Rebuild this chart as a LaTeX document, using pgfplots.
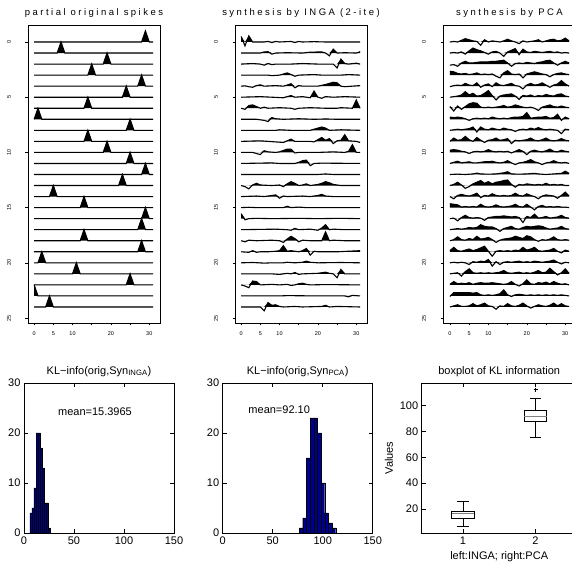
\documentclass[border=0pt]{standalone}
\usepackage{fontspec}
\setmainfont{Liberation Sans}
\usepackage{pgfplots}
\pgfplotsset{compat=1.18}
\usepgfplotslibrary{statistics}
\definecolor{histblue}{RGB}{0,0,143}

% one trace of a raster: row #1, points (x, offset) in #2
\newcommand\wave[2]{%
  \addplot[draw=none, fill=black, y filter/.expression={#1-max(y,0)}] coordinates {(0,0) #2 (31,0)} -- cycle;
  \addplot[black, line width=1.1pt, y filter/.expression={#1-y}] coordinates {#2};
}

\pgfplotsset{
  spk/.style={
    scale only axis, width=132pt, height=298pt, anchor=south west,
    xmin=-1.6, xmax=32.8, ymin=-1.54, ymax=25.45, y dir=reverse,
    xtick={0,5,...,30}, xticklabels={0,5,10,,20,,30},
    ytick={0,5,...,25},
    tick align=outside, tick pos=left, major tick length=2.5pt,
    tick style={black, line width=0.5pt},
    axis line style={line width=0.8pt},
    /pgf/number format/assume math mode=true,
    tick label style={font=\fontsize{5.5}{6}\selectfont},
    xticklabel style={yshift=-3pt},
    yticklabel style={rotate=90, anchor=south, yshift=11pt},
    title style={font=\fontsize{9.5}{10}\selectfont\addfontfeatures{LetterSpace=26}, yshift=-2pt},
    no markers,
  },
  kl/.style={
    scale only axis, width=150pt, height=150pt, anchor=south west,
    tick align=inside, major tick length=4pt,
    tick style={black, line width=0.5pt},
    axis line style={line width=0.7pt},
    /pgf/number format/assume math mode=true,
    tick label style={font=\fontsize{11}{12}\selectfont},
    label style={font=\fontsize{11}{12}\selectfont},
    title style={font=\fontsize{11}{12}\selectfont, yshift=-3pt},
  },
}

\begin{document}
\begin{tikzpicture}

% ---------- partial original spikes ----------
\begin{axis}[spk, at={(28pt,246pt)}, title={partial original spikes}]
\wave{0}{(0,0)(28,0)(29,1)(30,0)(31,0)}
\wave{1}{(0,0)(6,0)(7,1)(8,0)(31,0)}
\wave{2}{(0,0)(18,0)(19,1)(20,0)(31,0)}
\wave{3}{(0,0)(14,0)(15,1)(16,0)(31,0)}
\wave{4}{(0,0)(27,0)(28,1)(29,0)(31,0)}
\wave{5}{(0,0)(23,0)(24,1)(25,0)(31,0)}
\wave{6}{(0,0)(13,0)(14,1)(15,0)(31,0)}
\wave{7}{(0,0)(1,1)(2,0)(31,0)}
\wave{8}{(0,0)(24,0)(25,1)(26,0)(31,0)}
\wave{9}{(0,0)(13,0)(14,1)(15,0)(31,0)}
\wave{10}{(0,0)(18,0)(19,1)(20,0)(31,0)}
\wave{11}{(0,0)(24,0)(25,1)(26,0)(31,0)}
\wave{12}{(0,0)(28,0)(29,1)(30,0)(31,0)}
\wave{13}{(0,0)(22,0)(23,1)(24,0)(31,0)}
\wave{14}{(0,0)(4,0)(5,1)(6,0)(31,0)}
\wave{15}{(0,0)(12,0)(13,1)(14,0)(31,0)}
\wave{16}{(0,0)(28,0)(29,1)(30,0)(31,0)}
\wave{17}{(0,0)(27,0)(28,1)(29,0)(31,0)}
\wave{18}{(0,0)(12,0)(13,1)(14,0)(31,0)}
\wave{19}{(0,0)(27,0)(28,1)(29,0)(31,0)}
\wave{20}{(0,0)(1,0)(2,1)(3,0)(31,0)}
\wave{21}{(0,0)(10,0)(11,1)(12,0)(31,0)}
\wave{22}{(0,0)(24,0)(25,1)(26,0)(31,0)}
\wave{23}{(0,1)(1,0)(31,0)}
\wave{24}{(0,0)(3,0)(4,1)(5,0)(31,0)}
\end{axis}

% ---------- synthesis by INGA ----------
\begin{axis}[spk, at={(235pt,246pt)}, title={synthesis by INGA (2-ite)}]
\wave{0}{(0,0.5)(1,-0.35)(2,0.55)(3,0)(6,0)(7,0.05)(8,-0.05)(9,0.05)(10,0)(13,0.05)(14,-0.05)(15,0.05)(16,0)(19,0.03)(22,0)(31,0)}
\wave{1}{(0,0)(5,0)(6,0.1)(7,0.12)(8,-0.1)(9,0)(12,0.03)(16,0)(18,0.08)(21,0.1)(22,0)(23,-0.25)(24,0.35)(25,0)(27,0.03)(30,0)(31,0.12)}
\wave{2}{(0,0)(3,0.05)(5,0)(6,-0.1)(7,0.05)(8,-0.05)(9,0)(13,0)(16,0.05)(20,0)(24,0)(25,-0.35)(26,0.45)(27,0.05)(28,0)(30,0.08)(31,0)}
\wave{3}{(0,0)(7,0)(8,-0.05)(10,0)(12,0.2)(13,0.05)(14,-0.1)(15,0)(19,0.05)(21,0)(26,0)(28,0.05)(31,0)}
\wave{4}{(0,0)(1,0.03)(2,-0.05)(3,-0.1)(4,0.05)(5,0.12)(6,0)(9,0.05)(11,0)(12,0.1)(13,0.22)(14,-0.15)(15,0.05)(16,0)(20,0)(22,0.15)(24,0.35)(25,0.3)(26,0)(27,-0.05)(29,0)(31,0.05)}
\wave{5}{(0,0)(5,0.05)(8,0)(11,-0.05)(12,0.05)(13,0.15)(14,0)(16,0.05)(17,0)(18,-0.05)(19,0.55)(20,0)(21,-0.1)(22,0.05)(24,0)(27,0.05)(31,0)}
\wave{6}{(0,0)(1,-0.1)(2,0.25)(3,0.3)(4,0.15)(5,0)(6,0.1)(7,0)(10,0.05)(13,0)(14,-0.1)(15,0)(18,0.05)(22,0)(25,0)(26,0.05)(29,0)(30,0.75)(31,0)}
\wave{7}{(0,0)(4,0)(6,-0.1)(7,-0.2)(8,0.15)(9,0.05)(11,0)(15,0.05)(19,0)(22,0.03)(25,0)(31,0)}
\wave{8}{(0,0)(9,0)(10,0.05)(13,0)(18,0)(19,0.1)(21,0.3)(22,0.2)(23,0)(26,0.05)(31,0)}
\wave{9}{(0,0)(5,0.05)(7,0)(11,-0.1)(12,0.05)(13,0.2)(14,0)(18,0)(19,-0.05)(21,0.35)(22,0.1)(23,0.25)(24,-0.2)(25,0.05)(26,0.1)(27,0.6)(28,0.05)(30,0)(31,-0.1)}
\wave{10}{(0,0)(3,0)(4,-0.1)(5,-0.2)(6,0.15)(7,0.05)(9,0)(10,0.05)(12,0.3)(13,0.3)(14,-0.05)(15,0)(20,0)(24,0.05)(27,0)(28,0.1)(29,0.7)(30,0)(31,0)}
\wave{11}{(0,0)(8,0.05)(10,0)(14,0)(15,0.1)(16,0.25)(17,0.3)(18,-0.2)(19,0)(21,0.03)(31,0)}
\wave{12}{(0,0)(20,0)(22,0.05)(24,0)(31,0)}
\wave{13}{(0,0)(1,-0.1)(2,-0.3)(3,0.05)(4,0.2)(5,0.05)(8,0)(10,0.05)(11,-0.1)(12,0.15)(13,0.35)(14,0.2)(15,0)(16,0.05)(17,0.15)(18,0)(20,0.1)(21,0.2)(22,0.35)(23,0.25)(24,0.1)(26,0)(31,0)}
\wave{14}{(0,0)(4,0.05)(6,0)(8,0.1)(9,0.15)(10,-0.15)(11,0.05)(12,0)(16,0.05)(18,0)(20,0.1)(21,0.2)(22,0.05)(24,0)(31,0)}
\wave{15}{(0,0)(2,0.03)(4,0)(11,0)(12,0.12)(13,0)(15,0.05)(17,0)(31,0)}
\wave{16}{(0,0.45)(1,-0.1)(2,0)(4,0.03)(8,0)(15,0.03)(20,0)(26,0.03)(31,0)}
\wave{17}{(0,0)(9,0.05)(12,0)(13,-0.05)(14,0.12)(15,0)(18,0.05)(19,0)(20,-0.05)(21,0.15)(22,0.45)(23,0)(24,0.05)(27,0)(31,0)}
\wave{18}{(0,0)(1,-0.1)(2,0.05)(4,0)(8,0.05)(10,0)(11,-0.15)(12,0.15)(13,0.4)(14,0.2)(15,-0.1)(16,0.05)(18,0)(21,0)(22,0.8)(23,0)(24,0.05)(27,0)(31,0)}
\wave{19}{(0,0)(2,-0.05)(3,0.1)(4,-0.05)(5,0)(7,0)(9,0.05)(10,0.1)(11,0.55)(12,0.05)(13,0.1)(14,0.05)(15,0)(16,0.1)(17,0.3)(18,-0.3)(19,0.05)(20,0)(25,0)(28,0.05)(31,0.1)}
\wave{20}{(0,0)(3,0.03)(6,-0.03)(8,0)(11,0)(12,0.05)(14,0)(16,0.05)(17,0.15)(18,0.05)(20,0)(26,0.03)(31,0)}
\wave{21}{(0,0)(8,0)(10,-0.05)(12,0.05)(13,0)(14,0.12)(15,-0.05)(16,0)(20,0.05)(21,0.1)(22,0.15)(23,0.05)(24,0)(25,-0.35)(26,0.4)(27,0)(31,0)}
\wave{22}{(0,0)(1,-0.1)(2,-0.25)(3,0.35)(4,0.3)(5,0)(8,0.05)(10,0)(12,0.05)(13,-0.05)(14,0)(15,0.1)(16,0.15)(17,0.05)(18,0)(22,0.03)(31,0)}
\wave{23}{(0,0)(10,0)(12,0.03)(20,0)(27,0)(28,-0.08)(29,0.05)(31,0)}
\wave{24}{(0,0)(5,0)(6,-0.35)(7,0.4)(8,0.15)(9,0.2)(10,0.05)(11,0)(14,0.05)(16,0)(21,0.05)(22,0.15)(23,0)(25,0.05)(31,0)}
\end{axis}

% ---------- synthesis by PCA ----------
\begin{axis}[spk, at={(443pt,246pt)}, width=133pt, xmin=-1.8, title={synthesis by PCA}]
\wave{0}{(0,0)(1,0.05)(2,0)(3,0.15)(4,0.3)(5,0.2)(6,0.1)(7,0.05)(8,-0.3)(9,0.2)(10,0)(11,0.1)(12,0.05)(13,0)(14,0.1)(15,0.25)(16,0.1)(17,0)(18,-0.15)(19,0.1)(20,0)(21,0.05)(22,0.1)(23,0.2)(24,0)(25,0.1)(26,0.2)(27,0.25)(28,0.1)(29,0.15)(30,0.35)(31,0.1)}
\wave{1}{(0,0)(1,0.05)(2,0)(3,0.1)(4,-0.1)(5,0.2)(6,0.45)(7,0.3)(8,0.2)(9,0.05)(10,-0.1)(11,0.1)(12,0.15)(13,0)(14,-0.3)(15,0.1)(16,0.25)(17,0.4)(18,-0.15)(19,0.35)(20,0.1)(21,0.05)(22,0.15)(23,0.1)(24,0.05)(25,0.1)(26,0.15)(27,0.05)(28,0.1)(29,0)(30,0.05)(31,0)}
\wave{2}{(0,-0.1)(1,-0.05)(2,-0.2)(3,0.1)(4,0.25)(5,0.1)(6,0.1)(7,0.15)(8,0.2)(9,0.2)(10,0.2)(11,0.25)(12,0.25)(13,0.3)(14,0.35)(15,0.1)(16,-0.2)(17,0.05)(18,0.1)(19,0.05)(20,0.15)(21,0.1)(22,0.05)(23,0.15)(24,0.2)(25,0.3)(26,0.35)(27,0.1)(28,-0.1)(29,0.1)(30,0.25)(31,0.1)}
\wave{3}{(0,0.35)(1,0.3)(2,0.15)(3,0.1)(4,0.15)(5,0.05)(6,0.1)(7,0.2)(8,0.05)(9,0.1)(10,0.05)(11,0.1)(12,-0.1)(13,-0.25)(14,0.2)(15,0.4)(16,0.1)(17,0.05)(18,0.1)(19,-0.25)(20,0.1)(21,0.2)(22,0.3)(23,0.2)(24,0.1)(25,0.05)(26,-0.15)(27,0.05)(28,0.15)(29,0.2)(30,0.1)(31,0.05)}
\wave{4}{(0,-0.05)(1,0.05)(2,0.1)(3,0.05)(4,0.25)(5,0.1)(6,0.05)(7,0.3)(8,-0.1)(9,0.1)(10,0.2)(11,-0.05)(12,0.3)(13,0.1)(14,0.05)(15,0.15)(16,0.25)(17,0.05)(18,0)(19,-0.25)(20,0.1)(21,0.25)(22,0.1)(23,0.15)(24,0.3)(25,0.1)(26,-0.1)(27,0.1)(28,0.2)(29,0.5)(30,0.2)(31,0)}
\wave{5}{(0,0)(1,0.05)(2,0.1)(3,0.2)(4,0.5)(5,0.2)(6,0.35)(7,0.1)(8,0.15)(9,0.35)(10,0.6)(11,0.15)(12,-0.25)(13,0.1)(14,0.2)(15,0.25)(16,0.3)(17,0.1)(18,-0.2)(19,0.15)(20,0.1)(21,0.2)(22,0.05)(23,0.15)(24,0.1)(25,0.25)(26,0.15)(27,0.1)(28,0.25)(29,0.3)(30,0.1)(31,0.05)}
\wave{6}{(0,0.15)(1,-0.25)(2,0.2)(3,-0.1)(4,0.15)(5,0.4)(6,0.5)(7,0.45)(8,0.1)(9,0.05)(10,0.1)(11,0.05)(12,0.1)(13,0.15)(14,0.25)(15,0.1)(16,0.15)(17,0.3)(18,0.2)(19,0.1)(20,0.05)(21,0.1)(22,0)(23,-0.2)(24,0.1)(25,0.2)(26,0.3)(27,0.15)(28,0.1)(29,0.2)(30,0.1)(31,0.05)}
\wave{7}{(0,0.2)(1,0.15)(2,0.2)(3,0.15)(4,0.05)(5,-0.1)(6,0.05)(7,0.1)(8,0.05)(9,0.1)(10,0.05)(11,0.2)(12,0.1)(13,0.05)(14,0.1)(15,0.05)(16,0.15)(17,0.2)(18,0.2)(19,0.25)(20,0.6)(21,0.1)(22,0.15)(23,0.2)(24,0.2)(25,0.25)(26,0.1)(27,0.15)(28,0.45)(29,-0.1)(30,0.2)(31,0.05)}
\wave{8}{(0,0)(1,0.05)(2,0.1)(3,0.05)(4,0.1)(5,0.15)(6,0.3)(7,-0.15)(8,0.3)(9,0.1)(10,0.05)(11,0.2)(12,0.1)(13,0.05)(14,0.2)(15,0.1)(16,0.05)(17,-0.1)(18,0.05)(19,0.1)(20,0.05)(21,0.2)(22,0.1)(23,0.25)(24,0.1)(25,0.05)(26,0.1)(27,0.05)(28,0)(29,-0.3)(30,0.1)(31,0.05)}
\wave{9}{(0,0)(1,0.3)(2,0.1)(3,0.15)(4,0.45)(5,0.15)(6,0)(7,0.35)(8,0.1)(9,-0.1)(10,0.1)(11,0.15)(12,0.3)(13,0.1)(14,0.15)(15,0.25)(16,-0.2)(17,0.1)(18,0.05)(19,0.1)(20,0.15)(21,0.3)(22,0.1)(23,0.05)(24,0.15)(25,0.3)(26,0.1)(27,0.05)(28,0.1)(29,0.25)(30,0.1)(31,0.05)}
\wave{10}{(0,0.2)(1,0.25)(2,0.2)(3,0.1)(4,0.05)(5,-0.1)(6,0.05)(7,0.1)(8,0.05)(9,0.1)(10,0.25)(11,0.1)(12,0.05)(13,0.1)(14,0.05)(15,0.1)(16,-0.05)(17,0.1)(18,0.25)(19,0.1)(20,-0.2)(21,0.1)(22,0.2)(23,0.1)(24,0.05)(25,0.15)(26,0.3)(27,0.1)(28,0.05)(29,0.2)(30,0.1)(31,0.05)}
\wave{11}{(0,0)(1,0.1)(2,0.2)(3,0.05)(4,0.1)(5,0.15)(6,0.05)(7,0.05)(8,0.1)(9,0.15)(10,0.15)(11,0.2)(12,0.1)(13,0.05)(14,0.1)(15,0.25)(16,0.05)(17,-0.1)(18,0.05)(19,0.1)(20,0.2)(21,0.35)(22,0.15)(23,0.05)(24,-0.1)(25,0.05)(26,0.1)(27,0.25)(28,0.1)(29,0.05)(30,0.1)(31,0)}
\wave{12}{(0,0)(2,0.03)(4,0)(6,0.05)(7,0.12)(8,0.05)(10,0.03)(12,0.05)(14,0.15)(15,0.25)(16,0.05)(18,0.03)(20,0.05)(22,0.1)(23,0.05)(25,0)(27,0.05)(29,0.1)(30,0.3)(31,0.1)}
\wave{13}{(0,0)(1,0.1)(2,0.3)(3,0.05)(4,-0.25)(5,-0.1)(6,0.15)(7,0.3)(8,0.45)(9,0.2)(10,0.35)(11,0.15)(12,0.3)(13,0.35)(14,0.45)(15,0.5)(16,0.1)(17,-0.15)(18,0.1)(19,0.05)(20,0.15)(21,0.1)(22,0.05)(23,0.1)(24,0.05)(25,0.2)(26,0.05)(27,0.1)(28,0.05)(29,0.1)(30,0)(31,0)}
\wave{14}{(0,0)(1,-0.2)(2,0.1)(3,0.2)(4,0.1)(5,0.05)(6,0.15)(7,0.3)(8,-0.1)(9,0.1)(10,0.05)(11,0.25)(12,0.1)(13,0.05)(14,0.1)(15,0.05)(16,0.1)(17,0.3)(18,0.1)(19,0.05)(20,0.25)(21,0.1)(22,0)(23,-0.2)(24,0.05)(25,0.15)(26,0.1)(27,0.05)(28,-0.15)(29,0.1)(30,0.4)(31,0.05)}
\wave{15}{(0,0.35)(1,0.3)(2,0.25)(3,0.05)(4,0.1)(5,0.05)(6,0.1)(7,0.05)(8,0.3)(9,0.1)(10,0.05)(11,0.1)(12,0.25)(13,0.1)(14,0.05)(15,0.1)(16,0.15)(17,0.3)(18,0.1)(19,0.05)(20,0.3)(21,0.05)(22,-0.2)(23,0.1)(24,0.2)(25,0.05)(26,0.1)(27,0.05)(28,0.1)(29,0.05)(30,0.05)(31,0)}
\wave{16}{(0,0)(1,0.05)(2,-0.2)(3,0.1)(4,0.3)(5,0.1)(6,0.05)(7,0.1)(8,0.05)(9,-0.15)(10,0.1)(11,0.15)(12,0.2)(13,0.2)(14,0.25)(15,0.2)(16,0.15)(17,0.2)(18,0.1)(19,-0.35)(20,0.2)(21,0.1)(22,0.4)(23,0.05)(24,0.1)(25,0.2)(26,0.05)(27,0.1)(28,0.15)(29,0.3)(30,0.1)(31,0.05)}
\wave{17}{(0,0)(1,0.05)(2,0.1)(3,0.05)(4,0.1)(5,0.2)(6,0.15)(7,0.2)(8,0.45)(9,0.3)(10,0.25)(11,0.25)(12,0.1)(13,-0.15)(14,0.1)(15,0.2)(16,0.3)(17,0.1)(18,0.05)(19,0.2)(20,0.3)(21,0.25)(22,0.3)(23,0.35)(24,0.3)(25,0.15)(26,0.05)(27,0.1)(28,0.15)(29,0.3)(30,0.1)(31,0.05)}
\wave{18}{(0,0)(1,0.1)(2,0.35)(3,0.1)(4,0.05)(5,0.2)(6,0.1)(7,0.4)(8,0.15)(9,0.2)(10,0.3)(11,0.1)(12,-0.15)(13,0.05)(14,0.15)(15,0.2)(16,0.25)(17,0.4)(18,0.3)(19,0.2)(20,0.45)(21,0.35)(22,0.1)(23,-0.05)(24,0.1)(25,0.05)(26,0.15)(27,0.35)(28,0.1)(29,0.05)(30,0.1)(31,0.05)}
\wave{19}{(0,0.1)(1,0.4)(2,0.1)(3,0.05)(4,0.15)(5,0.25)(6,0.1)(7,0.2)(8,0.35)(9,0.5)(10,0.05)(11,-0.4)(12,0.05)(13,0.1)(14,0.05)(15,0.1)(16,0.05)(17,0.15)(18,0.1)(19,0.4)(20,0.15)(21,0.25)(22,0.4)(23,0.1)(24,0.05)(25,0.1)(26,0.15)(27,0.3)(28,0.05)(29,-0.1)(30,0.15)(31,0.05)}
\wave{20}{(0,0)(1,0.05)(2,0)(3,0.05)(4,0)(5,-0.15)(6,0.1)(7,0.05)(8,0.15)(9,0.1)(10,0.3)(11,-0.3)(12,0.1)(13,-0.15)(14,0.05)(15,0.1)(16,0.05)(17,0.1)(18,0.15)(19,0.05)(20,0.1)(21,0.05)(22,0.15)(23,0.1)(24,0.05)(25,0.1)(26,0.15)(27,0.25)(28,0.05)(29,-0.1)(30,0.05)(31,0)}
\wave{21}{(0,0)(1,0.05)(2,0.1)(3,-0.2)(4,0.2)(5,0.45)(6,0.1)(7,0.05)(8,0.1)(9,0.05)(10,0.1)(11,0.05)(12,0.1)(13,0.15)(14,0.3)(15,0.1)(16,0.05)(17,0.1)(18,0.15)(19,0.05)(20,0.1)(21,0.05)(22,0.15)(23,0.3)(24,0.1)(25,0.15)(26,0.5)(27,0.2)(28,-0.1)(29,0.1)(30,0.45)(31,0.05)}
\wave{22}{(0,0.05)(1,0.3)(2,0.1)(3,0.15)(4,0.1)(5,0.2)(6,0.05)(7,0.15)(8,0.2)(9,0.15)(10,0.15)(11,0.2)(12,0.15)(13,0.1)(14,0.05)(15,0.1)(16,0.3)(17,0.05)(18,-0.1)(19,0.1)(20,0.45)(21,0.1)(22,0.05)(23,0.2)(24,0.15)(25,0.25)(26,0.1)(27,0.3)(28,0.15)(29,0.05)(30,0.1)(31,0)}
\wave{23}{(0,-0.05)(1,0.3)(2,0.3)(3,0.3)(4,0.3)(5,0.3)(6,0.25)(7,0.3)(8,0.1)(9,0.05)(10,0.1)(11,0.05)(12,0.1)(13,0.2)(14,0.55)(15,0.1)(16,-0.05)(17,0.1)(18,0.15)(19,0.1)(20,0.05)(21,0.1)(22,0.05)(23,0.1)(24,0.05)(25,0.1)(26,0.05)(27,0.1)(28,0.05)(29,0.1)(30,0.05)(31,0)}
\wave{24}{(0,0)(1,0.1)(2,0.2)(3,0.05)(4,0.05)(5,0.1)(6,0.3)(7,0.1)(8,0.2)(9,0.35)(10,0.1)(11,0.05)(12,-0.2)(13,0.1)(14,0.05)(15,0.3)(16,0.1)(17,0.05)(18,0.15)(19,0.35)(20,0.1)(21,-0.1)(22,0.05)(23,0.2)(24,0.1)(25,0.05)(26,0.15)(27,0.35)(28,0.1)(29,0.3)(30,0.1)(31,0.05)}
\end{axis}

% ---------- histogram INGA ----------
\begin{axis}[kl, at={(24pt,36pt)}, xmin=0, xmax=150, ymin=0, ymax=30,
  xtick={0,50,100,150}, ytick={0,10,20,30},
  title={KL−info(orig,Syn\textsubscript{INGA})}]
\addplot[ybar interval, fill=histblue, draw=black, line width=0.4pt]
  coordinates {(6,4)(8,5)(10,9)(12,20)(14,20)(16,17)(18,13)(20,6)(22,6)(24,1)(26,1)};
\node[font=\fontsize{11}{12}\selectfont] at (axis cs:71,24.3) {mean=15.3965};
\end{axis}

% ---------- histogram PCA ----------
\begin{axis}[kl, at={(222.7pt,36pt)}, xmin=0, xmax=150, ymin=0, ymax=30,
  xtick={0,50,100,150}, ytick={0,10,20,30},
  title={KL−info(orig,Syn\textsubscript{PCA})}]
\addplot[ybar interval, fill=histblue, draw=black, line width=0.4pt]
  coordinates {(76.3,1)(80,3)(83.7,15)(87.3,23)(91,23)(94.7,20)(98.3,10)(102,4)(105.7,2)(109.3,1)(113,1)};
\node[font=\fontsize{11}{12}\selectfont] at (axis cs:56.5,24.7) {mean=92.10};
\end{axis}

% ---------- boxplot ----------
\begin{axis}[kl, at={(421.7pt,36pt)}, width=155pt,
  xmin=0.433, xmax=2.567, ymin=1.4, ymax=117.6,
  xtick={1,2}, ytick={20,40,...,100},
  ylabel={Values}, xlabel={left:INGA; right:PCA},
  title={boxplot of KL information},
  boxplot/draw direction=y,
  boxplot/every median/.style={gray, line width=1pt}]
\addplot[black, line width=0.6pt, mark=+, boxplot prepared={median=16.4, upper quartile=18.2,
  lower quartile=13, upper whisker=26, lower whisker=6.6, draw position=1,
  box extend=0.31, whisker extend=0.16}] coordinates {};
\addplot[black, line width=0.6pt, mark=+, boxplot prepared={median=91.7, upper quartile=96.4,
  lower quartile=87.9, upper whisker=106, lower whisker=75.7, draw position=2,
  box extend=0.31, whisker extend=0.16}] coordinates {(2,112.4)};
\end{axis}

\pgfresetboundingbox
\useasboundingbox (0,0) rectangle (572pt,569pt);
\end{tikzpicture}
\end{document}
